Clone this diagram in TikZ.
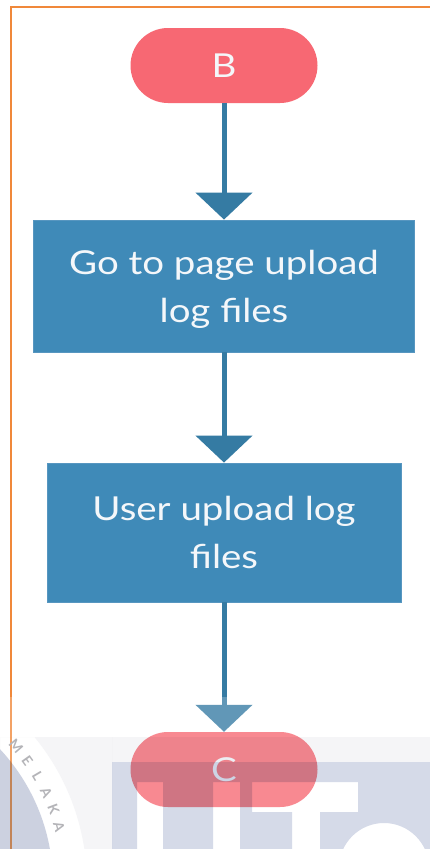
\documentclass[tikz,border=0pt]{standalone}
\usepackage{fontspec}
\setmainfont{Lato}[FakeStretch=1.165]
\newfontfamily\sealfont{Lato}
\usetikzlibrary{arrows.meta}

\definecolor{termfill}{HTML}{F76873}
\definecolor{procfill}{HTML}{3F8AB8}
\definecolor{procedge}{HTML}{5796C0}
\definecolor{flowline}{HTML}{357BA3}
\definecolor{frameline}{HTML}{F0883A}
\definecolor{textwhite}{HTML}{F4F7FA}
\definecolor{logotint}{HTML}{D5DAE8}
\definecolor{logohaze}{HTML}{F5F5F7}
\definecolor{logotext}{HTML}{B4B4B8}

\begin{document}
\begin{tikzpicture}[x=1pt,y=-1pt,
  terminal/.style={rectangle, rounded corners=37.5pt, fill=termfill,
    minimum width=187pt, minimum height=75pt, inner sep=0pt,
    text=textwhite, font=\fontsize{33}{40}\selectfont},
  process/.style={rectangle, fill=procfill, draw=procedge, line width=0.8pt,
    inner sep=0pt, text=textwhite, align=center, text depth=0pt,
    font=\fontsize{33}{48}\selectfont},
  flow/.style={draw=flowline, line width=5pt,
    -{Triangle[width=56pt,length=27pt]}},
  sealtext/.style={font=\sealfont\bfseries\fontsize{14}{14}\selectfont,
    text=logotext, inner sep=0pt}]

\useasboundingbox (0,0) rectangle (430,849);
\fill[white] (0,0) rectangle (430,849);

% page frame
\draw[frameline, line width=1.4pt] (11,849) -- (11,7) -- (430,7);

% flowchart
\node[terminal] (B) at (224,65.5) {B};
\node[process, minimum width=381pt, minimum height=132pt] (P1) at (224,286)
  {Go to page upload\\log files};
\node[process, minimum width=354pt, minimum height=139pt] (P2) at (224,532.5)
  {User upload log\\files};
\node[terminal] (C) at (224,769.5) {C};

\draw[flow] (B) -- (P1);
\draw[flow] (P1) -- (P2);
\draw[flow] (P2) -- (C);

% faded seal printed over the lower part of the page
\fill[white, opacity=0.22] (0,697) rectangle (430,849);
\begin{scope}[blend mode=multiply]
  \clip (0,737) rectangle (430,849);
  \fill[logohaze, even odd rule] (0,737) rectangle (112,849)
    (-145,884) circle[radius=232] (-145,884) circle[radius=198];
  \fill[logohaze] (112,737) rectangle (430,762);
  \fill[logotint] (-145,884) circle[radius=198];
  \fill[logotint, even odd rule] (112,762) rectangle (430,849)
    (137,782) rectangle (163,849)
    (213,782) rectangle (240,849)
    (252,782) -- (358,782) -- (358,812) -- (320,812) -- (320,849)
      -- (292,849) -- (292,812) -- (252,812) -- cycle
    (384,868) circle[radius=45];
\end{scope}
\foreach \ch [count=\i from 0] in {M,E,L,A,K,A} {
  \pgfmathsetmacro\ang{-40.6+\i*5}
  \node[sealtext, rotate={-\ang-90}] (seal\i)
    at ({-145+212*cos(\ang)},{884+212*sin(\ang)}) {\ch};
}
\end{tikzpicture}
\end{document}
